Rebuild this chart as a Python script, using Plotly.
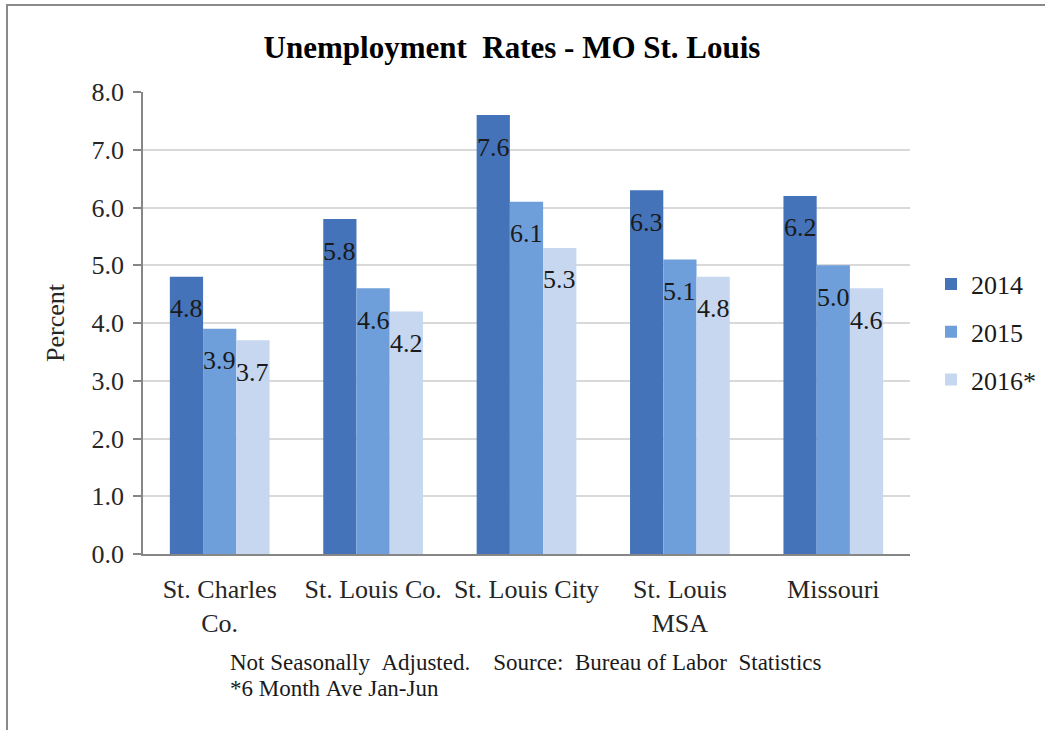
import plotly.graph_objects as go

categories = ["St. Charles<br>Co.", "St. Louis Co.", "St. Louis City", "St. Louis<br>MSA", "Missouri"]
series_names = ["2014", "2015", "2016*"]
values_2014 = [4.8, 5.8, 7.6, 6.3, 6.2]
values_2015 = [3.9, 4.6, 6.1, 5.1, 5.0]
values_2016 = [3.7, 4.2, 5.3, 4.8, 4.6]
y_tick_values = [0, 1, 2, 3, 4, 5, 6, 7, 8]
title_text = "Unemployment  Rates - MO St. Louis"
y_title = "Percent"
footnote_1 = "Not Seasonally  Adjusted.    Source:  Bureau of Labor  Statistics"
footnote_2 = "*6 Month Ave Jan-Jun"

series_values = [values_2014, values_2015, values_2016]
colors = ["#4473B9", "#6F9FDB", "#C6D7EF"]

W, H = 1045, 730
L, R, T, B = 143, 135, 92, 176
pw, ph = W - L - R, H - T - B
bargap = 0.35
FONT = "Liberation Serif"


def xp(px):
    return (px - L) / pw


def yp(py):
    return (H - B - py) / ph


fig = go.Figure()
for i, (name, vals) in enumerate(zip(series_names, series_values)):
    fig.add_trace(go.Bar(
        x=categories, y=vals, name=name,
        marker=dict(color=colors[i], line=dict(width=0)),
        legendgroup=name,
    ))

bar_px = pw / len(categories) * (1 - bargap) / len(series_names)
annotations = []
for i, vals in enumerate(series_values):
    for c, v in zip(categories, vals):
        annotations.append(dict(
            x=c, y=v, xref="x", yref="y", text=f"{v:.1f}", showarrow=False,
            xshift=(i - 1) * bar_px, yshift=-32,
            font=dict(family=FONT, size=26, color="#1a1a1a"),
        ))

annotations.append(dict(
    x=xp(228), y=yp(662), xref="paper", yref="paper", xanchor="left", yanchor="middle",
    text=footnote_1.replace(" ", "\u00a0"), showarrow=False,
    font=dict(family=FONT, size=23, color="#1a1a1a"),
))
annotations.append(dict(
    x=xp(228), y=yp(688), xref="paper", yref="paper", xanchor="left", yanchor="middle",
    text=footnote_2.replace(" ", "\u00a0"), showarrow=False,
    font=dict(family=FONT, size=23, color="#1a1a1a"),
))

shapes = [
    dict(type="line", xref="paper", yref="paper", x0=xp(6), x1=xp(W + 5), y0=yp(5), y1=yp(5),
         line=dict(color="#8a8a8a", width=2)),
    dict(type="line", xref="paper", yref="paper", x0=xp(7), x1=xp(7), y0=yp(5), y1=yp(H + 5),
         line=dict(color="#8a8a8a", width=2)),
]

fig.update_layout(
    width=W, height=H,
    margin=dict(l=L, r=R, t=T, b=B, pad=0, autoexpand=False),
    paper_bgcolor="white", plot_bgcolor="white",
    barmode="group", bargap=bargap, bargroupgap=0,
    font=dict(family=FONT, size=26, color="#262626"),
    title=dict(text=f"<b>{title_text}</b>", x=xp(512), xref="paper", xanchor="center",
               y=1 - 47 / H, yanchor="middle",
               font=dict(family=FONT, size=31, color="#000000")),
    legend=dict(x=xp(931), xanchor="left", y=yp(332), yanchor="middle",
                font=dict(family=FONT, size=26, color="#1a1a1a"),
                tracegroupgap=11, itemwidth=30, bgcolor="rgba(0,0,0,0)"),
    annotations=annotations,
    shapes=shapes,
)
fig.update_yaxes(
    range=[0, 8], tickvals=y_tick_values, tickformat=".1f",
    showgrid=True, gridcolor="#d9d9d9", gridwidth=1.5,
    showline=True, linecolor="#868686", linewidth=1.5,
    ticks="outside", ticklen=8, tickcolor="#868686", tickwidth=1.5,
    zeroline=False, ticklabelstandoff=4,
    title=dict(text=y_title, standoff=19, font=dict(family=FONT, size=26, color="#262626")),
    tickfont=dict(family=FONT, size=26, color="#262626"),
)
fig.update_xaxes(
    showline=True, linecolor="#868686", linewidth=1.5,
    ticks="", ticklabelstandoff=11,
    tickfont=dict(family=FONT, size=26, color="#262626"),
)

fig.write_html(
    "out.html",
    config={"displayModeBar": False},
    post_script="document.body.style.margin='0';document.body.style.padding='0';",
)
